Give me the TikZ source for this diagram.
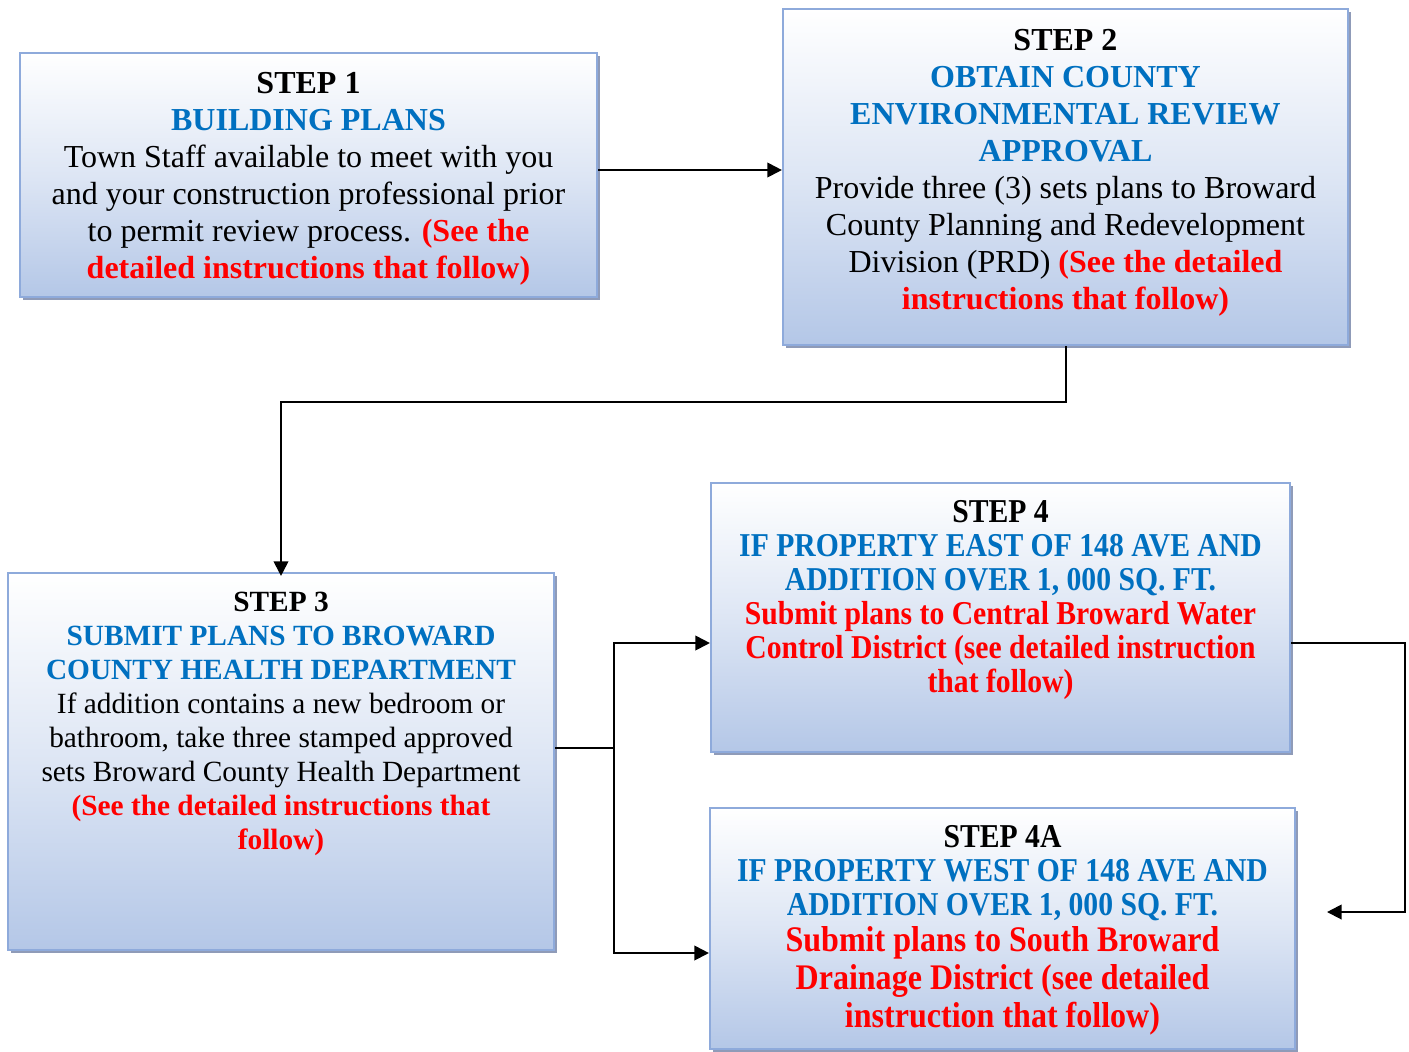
\documentclass[tikz,border=0pt]{standalone}
\usepackage{fontspec}
\setmainfont{Liberation Serif}
\newfontfamily\narrow{Liberation Serif}[FakeStretch=0.89]
\usepackage{tikz}
\usetikzlibrary{positioning,shadows,arrows.meta}
\definecolor{headblue}{HTML}{0070C0}
\definecolor{seered}{HTML}{FF0000}
\definecolor{boxbottom}{HTML}{B4C7E7}
\definecolor{boxline}{HTML}{8EAADB}
\definecolor{boxshade}{HTML}{8F9BB8}
\tikzstyle{stepbox} = [draw=boxline, line width=1.6pt, top color=white, bottom color=boxbottom, middle color=boxbottom!45, drop shadow={shadow xshift=2.4pt, shadow yshift=-2.4pt, fill=boxshade, opacity=1}]
\tikzstyle{steptext} = [align=center, inner sep=0pt, font={\fontsize{24}{27.75}\selectfont}]
\tikzstyle{narrowtext} = [steptext, font={\narrow\fontsize{25}{25.5}\selectfont\bfseries}]
\tikzstyle{conn} = [line width=1.5pt]
\tikzstyle{connarrow} = [conn, -{Triangle[length=11pt,width=11pt]}]
\newcommand{\head}[1]{\textcolor{headblue}{\textbf{#1}}}
\newcommand{\see}[1]{\textcolor{seered}{\textbf{#1}}}
\newcommand{\bigsee}[1]{{\fontsize{27}{27.75}\selectfont\textcolor{seered}{#1}}}

\begin{document}
\begin{tikzpicture}[x=0.75pt,y=-0.75pt]
        \useasboundingbox (0,0) rectangle (1409,1051);
        \node[stepbox, minimum width=432.75pt, minimum height=183pt](1) at (308.5,175){};
        \node[stepbox, minimum width=423.75pt, minimum height=252pt](2) at (1065.5,177){};
        \node[stepbox, minimum width=409.5pt, minimum height=282.75pt](3) at (281,761.5){};
        \node[stepbox, minimum width=434.25pt, minimum height=201.75pt](4) at (1000.5,617.5){};
        \node[stepbox, minimum width=438.75pt, minimum height=180.75pt](4a) at (1002.5,928.5){};
        \node[steptext, below=15pt of 1.north](t1){\textbf{STEP 1}\\ \head{BUILDING PLANS}\\
          Town Staff available to meet with you\\ and your construction professional prior\\
          to permit review process. \see{(See the}\\ \see{detailed instructions that follow)}};
        \node[steptext, below=16pt of 2.north](t2){\textbf{STEP 2}\\ \head{OBTAIN COUNTY}\\
          \head{ENVIRONMENTAL REVIEW}\\ \head{APPROVAL}\\
          Provide three (3) sets plans to Broward\\ County Planning and Redevelopment\\
          Division (PRD) \see{(See the detailed}\\ \see{instructions that follow)}};
        \node[steptext, below=15pt of 3.north, font={\fontsize{22}{25.5}\selectfont}](t3){\textbf{STEP 3}\\
          \head{SUBMIT PLANS TO BROWARD}\\ \head{COUNTY HEALTH DEPARTMENT}\\
          If addition contains a new bedroom or\\ bathroom, take three stamped approved\\
          sets Broward County Health Department\\ \see{(See the detailed instructions that}\\ \see{follow)}};
        \node[narrowtext, below=14pt of 4.north](t4){STEP 4\\
          \textcolor{headblue}{IF PROPERTY EAST OF 148 AVE AND}\\ \textcolor{headblue}{ADDITION OVER 1, 000 SQ. FT.}\\
          \textcolor{seered}{Submit plans to Central Broward Water}\\ \textcolor{seered}{Control District (see detailed instruction}\\
          \textcolor{seered}{that follow)}};
        \node[narrowtext, below=14pt of 4a.north](t4a){STEP 4A\\
          \textcolor{headblue}{IF PROPERTY WEST OF 148 AVE AND}\\ \textcolor{headblue}{ADDITION OVER 1, 000 SQ. FT.}\\[1.5pt]
          \bigsee{Submit plans to South Broward}\\[3pt] \bigsee{Drainage District (see detailed}\\[3pt]
          \bigsee{instruction that follow)}};
        \coordinate(split) at (614,748);
        \coordinate(back) at (1327,912);
        \draw[connarrow](1.east |- 0,170)--(2.west |- 0,170);
        \draw[connarrow,shorten >=-3pt](2.south)--++(0,56)-|(3.north);
        \draw[conn](split -| 3.east)--(split);
        \draw[connarrow](split)|-(4.west |- 0,643);
        \draw[connarrow](split)|-(4a.west |- 0,953);
        \draw[connarrow](4.east |- 0,643)--(1405,643)|-(back);
      \end{tikzpicture}
\end{document}
